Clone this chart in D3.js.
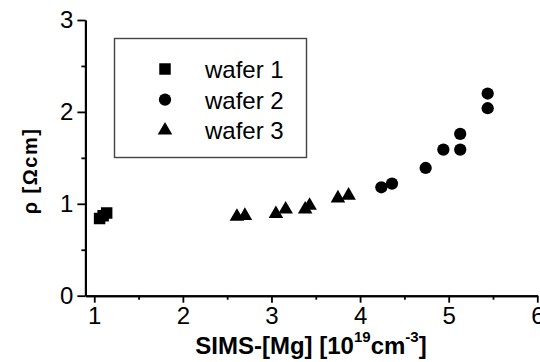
<!DOCTYPE html>
<html>
<head>
<meta charset="utf-8">
<script src="https://cdn.jsdelivr.net/npm/d3@7"></script>
<style>
  html, body { margin: 0; padding: 0; background: #fff; }
  svg { display: block; font-family: Arial, "Liberation Sans", sans-serif; }
</style>
</head>
<body>
<svg id="chart" width="540" height="362"></svg>
<script>
// Resistivity vs Mg concentration (SIMS) for three wafers
const wafer1X = [1.06, 1.10, 1.14];
const wafer1Y = [0.84, 0.87, 0.90];
const wafer2X = [4.24, 4.36, 4.74, 4.94, 5.13, 5.13, 5.44, 5.44];
const wafer2Y = [1.18, 1.22, 1.39, 1.59, 1.59, 1.76, 2.04, 2.20];
const wafer3X = [2.61, 2.70, 3.05, 3.16, 3.38, 3.43, 3.75, 3.87];
const wafer3Y = [0.86, 0.87, 0.89, 0.94, 0.94, 0.98, 1.06, 1.09];
const xTicks = [1, 2, 3, 4, 5, 6];
const yTicks = [0, 1, 2, 3];
const seriesNames = ["wafer 1", "wafer 2", "wafer 3"];

const svg = d3.select("#chart");
const x = d3.scaleLinear().domain([0.9, 6]).range([85.4, 537.3]);
const y = d3.scaleLinear().domain([0, 3]).range([295.7, 20]);

const symbols = [d3.symbolSquare, d3.symbolCircle, d3.symbolTriangle];
const sizes = [132, 118, 92];

// axes
const xAxis = d3.axisBottom(x).tickValues(xTicks).tickSize(7).tickSizeOuter(0).tickPadding(4).tickFormat(d3.format("d"));
const xMinor = d3.axisBottom(x).tickValues(d3.range(1.5, 6, 1)).tickSize(4).tickSizeOuter(0).tickFormat("");
const yAxis = d3.axisLeft(y).tickValues(yTicks).tickSize(8).tickSizeOuter(0).tickPadding(4).tickFormat(d3.format("d"));
const yMinor = d3.axisLeft(y).tickValues([0.5, 1.5, 2.5]).tickSize(4).tickSizeOuter(0).tickFormat("");

function styleAxis(g) {
  g.select(".domain").attr("stroke", "#000").attr("stroke-width", 2);
  g.selectAll(".tick line").attr("stroke", "#000").attr("stroke-width", 1.8);
  g.selectAll(".tick text").attr("fill", "#000").attr("font-size", 24)
    .attr("font-family", "Arial, 'Liberation Sans', sans-serif");
}

svg.append("g").attr("transform", `translate(0,${y(0)})`).call(xMinor).call(styleAxis);
svg.append("g").attr("transform", `translate(0,${y(0)})`).call(xAxis).call(styleAxis);
svg.append("g").attr("transform", `translate(${x(0.9)},0)`).call(yMinor).call(styleAxis);
svg.append("g").attr("transform", `translate(${x(0.9)},0)`).call(yAxis).call(styleAxis);

// axis titles
const xt = svg.append("text")
  .attr("x", 311).attr("y", 354)
  .attr("text-anchor", "middle")
  .attr("font-size", 24).attr("font-weight", "bold").attr("fill", "#000");
xt.append("tspan").text("SIMS-[Mg] [10");
xt.append("tspan").attr("font-size", 15).attr("dy", -12).text("19");
xt.append("tspan").attr("dy", 12).text("cm");
xt.append("tspan").attr("font-size", 15).attr("dy", -12).text("-3");
xt.append("tspan").attr("dy", 12).text("]");

svg.append("text")
  .attr("transform", "translate(37,171) rotate(-90)")
  .attr("text-anchor", "middle")
  .attr("font-size", 20).attr("font-weight", "bold")
  .attr("letter-spacing", 1.5)
  .attr("fill", "#000")
  .text("ρ [Ωcm]");

// data
const series = [
  { xs: wafer1X, ys: wafer1Y },
  { xs: wafer2X, ys: wafer2Y },
  { xs: wafer3X, ys: wafer3Y }
];
series.forEach((s, i) => {
  const pts = s.xs.map((v, j) => [v, s.ys[j]]);
  svg.append("g").selectAll("path").data(pts).join("path")
    .attr("transform", d => `translate(${x(d[0])},${y(d[1])})`)
    .attr("d", d3.symbol().type(symbols[i]).size(sizes[i]))
    .attr("fill", "#000");
});

// legend
const legend = svg.append("g");
legend.append("rect")
  .attr("x", 114.5).attr("y", 38.5).attr("width", 192).attr("height", 119)
  .attr("fill", "none").attr("stroke", "#444").attr("stroke-width", 1.4);
seriesNames.forEach((name, i) => {
  const cy = 69 + i * 30.7;
  legend.append("path")
    .attr("transform", `translate(165,${cy})`)
    .attr("d", d3.symbol().type(symbols[i]).size(sizes[i]))
    .attr("fill", "#000");
  legend.append("text")
    .attr("x", 205).attr("y", cy + 9)
    .attr("font-size", 24).attr("fill", "#000")
    .text(name);
});
</script>
</body>
</html>
